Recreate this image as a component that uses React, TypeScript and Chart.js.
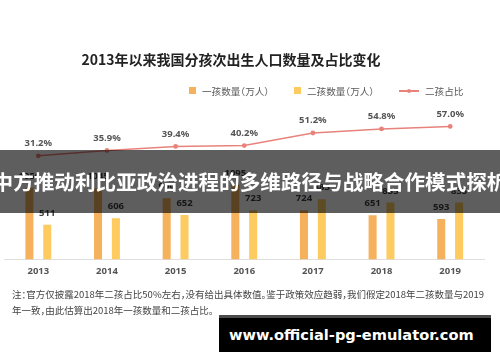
import React, { useEffect, useRef } from "react";
import { Chart, registerables } from "chart.js";

Chart.register(...registerables);

const years = ["2013", "2014", "2015", "2016", "2017", "2018", "2019"];
const firstChild = [1056, 1045, 900, 1095, 724, 651, 593];
const secondChild = [511, 606, 652, 723, 883, 835, 835];
const secondShare = [31.2, 35.9, 39.4, 40.2, 51.2, 54.8, 57.0];
const seriesNames = ["一孩数量（万人）", "二孩数量（万人）", "二孩占比"];

const titleText = "2013年以来我国分孩次出生人口数量及占比变化";
const noteLine1 = "注：官方仅披露2018年二孩占比50%左右，没有给出具体数值。鉴于政策效应趋弱，我们假定2018年二孩数量与2019";
const noteLine2 = "年一致，由此估算出2018年一孩数量和二孩占比。";
const bannerText = "中方推动利比亚政治进程的多维路径与战略合作模式探析";
const watermarkText = "www.official-pg-emulator.com";

const ORANGE = "#F5B15C";
const YELLOW = "#FDCB5F";
const RED = "#E8837B";
const CJK = '"Noto Sans CJK SC", "Noto Sans", sans-serif';

const valueLabels = {
  id: "valueLabels",
  afterDatasetsDraw(chart: any) {
    const ctx = chart.ctx;
    ctx.save();
    ctx.textAlign = "center";
    ctx.textBaseline = "middle";
    chart.data.datasets.forEach((ds: any, i: number) => {
      const meta = chart.getDatasetMeta(i);
      meta.data.forEach((el: any, j: number) => {
        const v = ds.data[j];
        if (ds.type === "line") {
          ctx.font = 'bold 9.5px "Noto Sans", sans-serif';
          ctx.fillStyle = "#555555";
          ctx.fillText(v.toFixed(1) + "%", el.x, el.y - 12.4);
        } else {
          ctx.font = 'bold 9.5px "Noto Sans", sans-serif';
          ctx.fillStyle = "#3d3d3d";
          ctx.fillText(String(v), el.x, el.y - 11.6);
        }
      });
    });
    ctx.restore();
  },
};

export default function App() {
  const ref = useRef<HTMLCanvasElement | null>(null);

  useEffect(() => {
    const canvas = ref.current;
    if (!canvas) return;
    const chart = new Chart(canvas, {
      type: "bar",
      data: {
        labels: years,
        datasets: [
          {
            type: "line",
            label: seriesNames[2],
            data: secondShare,
            yAxisID: "y2",
            borderColor: RED,
            backgroundColor: RED,
            borderWidth: 1.5,
            pointRadius: 2.4,
            pointBorderWidth: 0,
            pointBackgroundColor: RED,
            tension: 0,
            order: 0,
          } as any,
          {
            type: "bar",
            label: seriesNames[0],
            data: firstChild,
            yAxisID: "y",
            backgroundColor: ORANGE,
            categoryPercentage: 0.52,
            barPercentage: 0.45,
            order: 1,
          },
          {
            type: "bar",
            label: seriesNames[1],
            data: secondChild,
            yAxisID: "y",
            backgroundColor: YELLOW,
            categoryPercentage: 0.52,
            barPercentage: 0.45,
            order: 1,
          },
        ],
      },
      options: {
        responsive: false,
        animation: false,
        layout: { padding: { left: 4, right: 15.5, top: 123, bottom: 80 } },
        plugins: {
          legend: { display: false },
          tooltip: { enabled: false },
          title: { display: false },
        },
        scales: {
          x: {
            grid: { display: false, drawTicks: false },
            border: { display: true, color: "#dedede", width: 1 },
            ticks: {
              padding: 5.5,
              color: "#555555",
              font: { family: '"Noto Sans", sans-serif', size: 9.5, weight: "bold" },
            },
          },
          y: { display: false, min: 0, max: 2000 },
          y2: { display: false, min: -60, max: 60, position: "right" },
        },
      },
      plugins: [valueLabels],
    });
    return () => chart.destroy();
  }, []);

  const legendText: React.CSSProperties = {
    position: "absolute",
    top: 83,
    height: 16,
    lineHeight: "16px",
    fontSize: 9.6,
    color: "#595959",
    fontFamily: CJK,
    fontFeatureSettings: '"halt"',
    whiteSpace: "nowrap",
  };

  return (
    <div style={{ position: "absolute", left: 0, top: 0, width: 500, height: 362, background: "#fff", overflow: "hidden" }}>
      <canvas ref={ref} width={500} height={362} style={{ position: "absolute", left: 0, top: 0, width: 500, height: 362 }} />
      <div
        style={{
          position: "absolute",
          left: 0,
          top: 49,
          width: 462,
          height: 20,
          lineHeight: "20px",
          textAlign: "center",
          fontFamily: CJK,
          fontWeight: "bold",
          fontSize: 14,
          color: "#222",
          whiteSpace: "nowrap",
        }}
      >
        {titleText}
      </div>
      <div style={{ position: "absolute", left: 189, top: 87.2, width: 7, height: 7, background: ORANGE }} />
      <div style={{ ...legendText, left: 202 }}>{seriesNames[0]}</div>
      <div style={{ position: "absolute", left: 293.7, top: 87.2, width: 7, height: 7, background: YELLOW }} />
      <div style={{ ...legendText, left: 307 }}>{seriesNames[1]}</div>
      <div style={{ position: "absolute", left: 399, top: 90, width: 20, height: 1.5, background: RED }} />
      <div style={{ position: "absolute", left: 407.2, top: 88.8, width: 4, height: 4, borderRadius: 2, background: RED }} />
      <div style={{ ...legendText, left: 425 }}>{seriesNames[2]}</div>
      <div
        style={{
          position: "absolute",
          left: 12,
          top: 287.2,
          lineHeight: "15.7px",
          fontSize: 9.5,
          color: "#444",
          fontFamily: CJK,
          fontFeatureSettings: '"halt"',
          whiteSpace: "nowrap",
        }}
      >
        {noteLine1}
        <br />
        {noteLine2}
      </div>
      <div
        style={{
          position: "absolute",
          left: 0,
          top: 150,
          width: 500,
          height: 62.7,
          background: "rgba(0,0,0,0.63)",
          color: "#fff",
          fontFamily: CJK,
          fontWeight: "bold",
          fontSize: 20.6,
          lineHeight: "62.7px",
          textAlign: "center",
          whiteSpace: "nowrap",
          overflow: "visible",
        }}
      >
        <span style={{ display: "inline-block", marginLeft: -20, marginRight: -20 }}>{bannerText}</span>
      </div>
      <div
        style={{
          position: "absolute",
          left: 219,
          top: 315,
          width: 272,
          height: 37.3,
          background: "#000",
          borderTop: "3px solid #4a4a4a",
          boxSizing: "border-box",
          color: "#fff",
          fontFamily: '"DejaVu Sans", sans-serif',
          fontWeight: "bold",
          fontSize: 14.6,
          lineHeight: "34px",
          paddingLeft: 10,
          whiteSpace: "nowrap",
        }}
      >
        {watermarkText}
      </div>
    </div>
  );
}
